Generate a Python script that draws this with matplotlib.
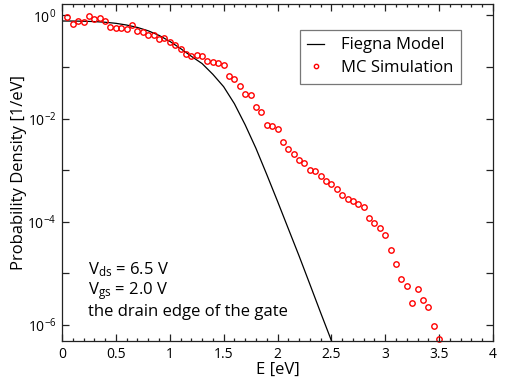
import matplotlib

matplotlib.use("Agg")
import matplotlib.pyplot as plt
import matplotlib.ticker as mticker
import numpy as np

# ── Data ─────────────────────────────────────────────────────────────────────
# MC simulation: energy bins every 0.05 eV
mc_E = np.round(np.arange(1, 71) * 0.05, 2)
mc_p = [
    0.95, 0.684, 0.773, 0.748, 0.977, 0.855, 0.895, 0.773, 0.590, 0.565,
    0.565, 0.541, 0.655, 0.494, 0.472, 0.425, 0.413, 0.351, 0.366, 0.303,
    0.272, 0.228, 0.182, 0.164, 0.169, 0.166, 0.133, 0.126, 0.122, 0.108,
    0.0681, 0.0581, 0.0425, 0.0305, 0.0288, 0.0169, 0.0137, 7.66e-3, 7.13e-3, 6.24e-3,
    3.53e-3, 2.55e-3, 2.10e-3, 1.58e-3, 1.37e-3, 1.00e-3, 9.8e-4, 7.66e-4, 6.28e-4, 5.50e-4,
    4.29e-4, 3.32e-4, 2.74e-4, 2.54e-4, 2.25e-4, 1.92e-4, 1.19e-4, 9.5e-5, 7.5e-5, 5.5e-5,
    2.85e-5, 1.51e-5, 7.7e-6, 5.7e-6, 2.7e-6, 4.9e-6, 3.1e-6, 2.2e-6, 9.7e-7, 5.3e-7,
]

# Fiegna model curve (points picked along the drawn line, every 0.1 eV)
fg_E = [0.0, 0.1, 0.2, 0.3, 0.4, 0.5, 0.6, 0.7, 0.8, 0.9, 1.0, 1.1, 1.2, 1.3,
        1.4, 1.5, 1.6, 1.7, 1.8, 1.9, 2.0, 2.1, 2.2, 2.3, 2.4, 2.5, 2.55]
fg_p = [0.782, 0.780, 0.774, 0.762, 0.740, 0.705, 0.653, 0.586, 0.505, 0.412,
        0.316, 0.229, 0.162, 0.117, 0.0724, 0.0417, 0.0195, 7.59e-3, 2.66e-3,
        8.3e-4, 2.51e-4, 7.4e-5, 2.19e-5, 6.2e-6, 1.74e-6, 5.0e-7, 2.6e-7]

annot = ["V$_{\\mathrm{ds}}$ = 6.5 V", "V$_{\\mathrm{gs}}$ = 2.0 V",
         "the drain edge of the gate"]

# ── Style ────────────────────────────────────────────────────────────────────
plt.rcParams["font.family"] = ["Open Sans", "DejaVu Sans"]
plt.rcParams["mathtext.fontset"] = "custom"
plt.rcParams["mathtext.rm"] = "Open Sans"
plt.rcParams["mathtext.it"] = "Open Sans"
FS = 12
FS_TICK = 10
EDGE = "#222222"

fig = plt.figure(figsize=(5.05, 3.87), dpi=100)
ax = fig.add_axes([62 / 505, 46 / 387, 431 / 505, 337 / 387])

ax.plot(fg_E, fg_p, color="black", lw=0.9, label="Fiegna Model")
ax.plot(mc_E, mc_p, ls="none", marker="o", ms=3.9, mfc="none", mec="red",
        mew=1.0, label="MC Simulation", clip_on=False)

ax.set_yscale("log")
ax.set_xlim(0, 4)
ax.set_ylim(4.9e-7, 1.67)

ax.xaxis.set_major_locator(mticker.MultipleLocator(0.5))
ax.xaxis.set_minor_locator(mticker.MultipleLocator(0.1))
ax.xaxis.set_major_formatter(mticker.FuncFormatter(lambda v, _: f"{v:g}"))

ax.yaxis.set_major_locator(mticker.FixedLocator([10.0 ** k for k in range(-7, 1)]))
ax.yaxis.set_minor_locator(mticker.NullLocator())
ax.yaxis.set_major_formatter(mticker.FuncFormatter(
    lambda v, _: f"10$^{{{int(round(np.log10(v)))}}}$" if round(np.log10(v)) % 2 == 0 else ""))

ax.tick_params(which="both", direction="in", top=True, right=True, color=EDGE,
               labelsize=FS_TICK, width=0.9)
ax.tick_params(which="major", length=5, pad=4)
ax.tick_params(which="minor", length=2.5)
for s in ax.spines.values():
    s.set_color(EDGE)
    s.set_linewidth(0.9)

ax.set_xlabel("E [eV]", fontsize=FS, va="center")
ax.xaxis.set_label_coords(0.5, -0.086)
ax.set_ylabel("Probability Density [1/eV]", fontsize=FS, va="center")
ax.yaxis.set_label_coords(-0.099, 0.5)

leg = ax.legend(loc="upper right", bbox_to_anchor=(0.925, 0.923), fontsize=FS,
                frameon=True, fancybox=False, handlelength=1.0, handletextpad=1.0,
                borderpad=0.45, labelspacing=0.4, markerscale=0.8,
                borderaxespad=0.0)
leg.get_frame().set_edgecolor("#555555")
leg.get_frame().set_linewidth(0.9)

for i, t in enumerate(annot):
    ax.text(0.06, 0.211 - i * 0.062, t, transform=ax.transAxes, fontsize=FS,
            va="center", ha="left")

fig.savefig("out.png", dpi=100)
